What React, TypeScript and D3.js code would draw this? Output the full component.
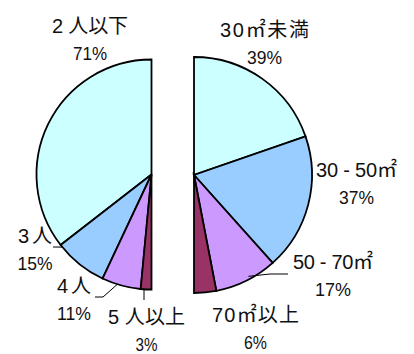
import React from "react";
import * as d3 from "d3";

// Household size breakdown (left half) and floor-area breakdown (right half)
const householdCategories = ["2 人以下", "3 人", "4 人", "5 人以上"];
const householdValues = [71, 15, 11, 3];

const areaCategories = ["30㎡未満", "30 - 50㎡", "50 - 70㎡", "70㎡以上"];
const areaValues = [39, 37, 17, 6];

const sliceColors = ["#CCFFFF", "#99CCFF", "#CC99FF", "#993366"];

const W = 414;
const H = 354;
const FONT = "'Liberation Sans', Arial, 'Noto Sans CJK JP', sans-serif";

type LabelLayout = {
  x: number; // text centre
  y: number; // baseline of the category line
  w: number; // width of the category line
  pw: number; // width of the percent line
  leader?: { from: [number, number][]; frac: number; inset: number };
};

const leftPie = { cx: 151.5, cy: 174.5, r: 115 };
const rightPie = { cx: 194, cy: 175, r: 118 };

const leftLabels: LabelLayout[] = [
  { x: 90, y: 33, w: 76, pw: 34 },
  { x: 35, y: 243, w: 34, pw: 35, leader: { from: [[53, 247]], frac: 0.05, inset: 0 } },
  { x: 74, y: 293, w: 34, pw: 34, leader: { from: [[95, 297], [103, 297]], frac: 0.4, inset: 0 } },
  { x: 146.5, y: 324, w: 77, pw: 22, leader: { from: [[144, 300]], frac: 0.31, inset: 0 } },
];

const rightLabels: LabelLayout[] = [
  { x: 264.5, y: 37, w: 89, pw: 35 },
  { x: 356.5, y: 177, w: 81, pw: 35 },
  { x: 333, y: 269, w: 80, pw: 36, leader: { from: [[288, 274], [270, 274]], frac: 0.44, inset: 3 } },
  { x: 255.5, y: 322, w: 87, pw: 23 },
];

function HalfPie({
  values,
  categories,
  geom,
  labels,
  direction,
}: {
  values: number[];
  categories: string[];
  geom: { cx: number; cy: number; r: number };
  labels: LabelLayout[];
  direction: 1 | -1;
}) {
  const pie = d3
    .pie<number>()
    .sort(null)
    .value((d) => d)
    .startAngle(0)
    .endAngle(direction * Math.PI);
  const arcs = pie(values);
  const arc = d3.arc<d3.PieArcDatum<number>>().innerRadius(0).outerRadius(geom.r);
  const line = d3.line();

  return (
    <g>
      <g transform={`translate(${geom.cx},${geom.cy})`}>
        {arcs.map((a, i) => (
          <path
            key={i}
            d={arc(a) as string}
            fill={sliceColors[i]}
            stroke="#000"
            strokeWidth={1.8}
            strokeLinejoin="miter"
          />
        ))}
      </g>
      {arcs.map((a, i) => {
        const lab = labels[i];
        let leaderPath: string | null = null;
        if (lab.leader) {
          const ang = a.startAngle + (a.endAngle - a.startAngle) * lab.leader.frac;
          const rr = geom.r - lab.leader.inset;
          const end: [number, number] = [
            geom.cx + rr * Math.sin(ang),
            geom.cy - rr * Math.cos(ang),
          ];
          leaderPath = line([...lab.leader.from, end]);
        }
        return (
          <g key={i}>
            {leaderPath && (
              <path d={leaderPath} fill="none" stroke="#000" strokeWidth={1} />
            )}
            <text
              x={lab.x}
              y={lab.y}
              textAnchor="middle"
              fontFamily={FONT}
              fontSize={20}
              fill="#111"
              textLength={lab.w}
              lengthAdjust="spacing"
            >
              {categories[i]}
            </text>
            <text
              x={lab.x}
              y={lab.y + 27}
              textAnchor="middle"
              fontFamily={FONT}
              fontSize={18}
              fill="#111"
              textLength={lab.pw}
              lengthAdjust="spacingAndGlyphs"
            >
              {`${values[i]}%`}
            </text>
          </g>
        );
      })}
    </g>
  );
}

export default function App() {
  return (
    <svg
      width={W}
      height={H}
      viewBox={`0 0 ${W} ${H}`}
      style={{ position: "absolute", left: 0, top: 0, background: "#fff" }}
    >
      <rect width={W} height={H} fill="#fff" />
      <HalfPie
        values={householdValues}
        categories={householdCategories}
        geom={leftPie}
        labels={leftLabels}
        direction={-1}
      />
      <HalfPie
        values={areaValues}
        categories={areaCategories}
        geom={rightPie}
        labels={rightLabels}
        direction={1}
      />
    </svg>
  );
}
